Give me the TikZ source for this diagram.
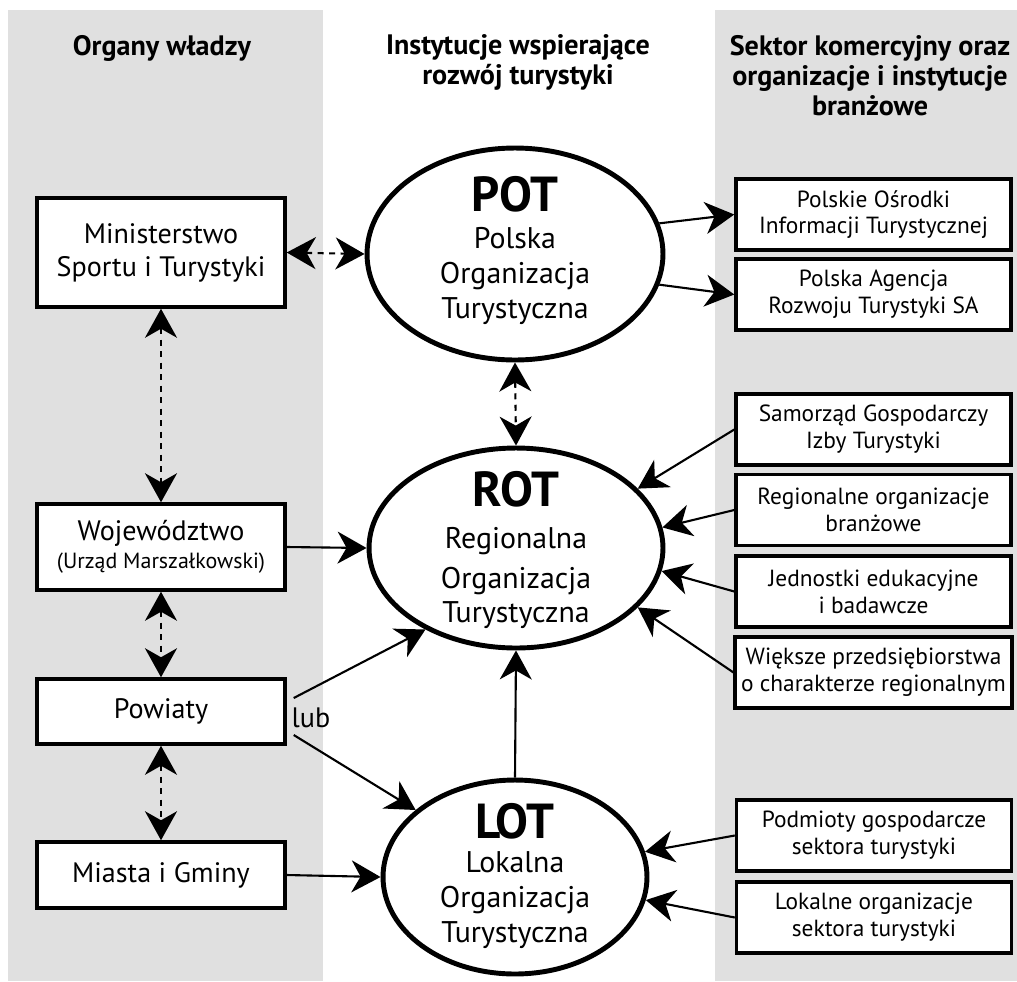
\documentclass[tikz,border=0pt]{standalone}
\usepackage{fontspec}
\setmainfont{PT Sans}
\usetikzlibrary{shapes.geometric,arrows.meta}

\definecolor{panelgray}{RGB}{224,224,224}

\begin{document}
\begin{tikzpicture}[x=0.02cm, y=-0.02cm,
    box/.style={draw, rectangle, line width=2pt, fill=white, align=center,
      minimum width=4.96cm, font=\fontsize{16}{18.7}\selectfont},
    sidebox/.style={draw, rectangle, line width=2pt, fill=white, align=center,
      minimum width=5.5cm, minimum height=1.42cm, font=\fontsize{13.3}{15.3}\selectfont},
    org/.style={draw, ellipse, line width=2.8pt, fill=white, inner sep=0pt},
    orgtext/.style={align=center, font=\fontsize{17}{19.8}\selectfont},
    head/.style={align=center, font=\bfseries\fontsize{16}{17}\selectfont},
    big/.style={font=\bfseries\fontsize{28}{30}\selectfont},
    tip/.style={line width=1.2pt, -{Stealth[length=0.58cm, width=0.64cm, inset=0.18cm]}},
    both/.style={line width=1.2pt, dash pattern=on 0.12cm off 0.11cm,
      {Stealth[length=0.58cm, width=0.64cm, inset=0.18cm]}-{Stealth[length=0.58cm, width=0.64cm, inset=0.18cm]}}]

    % Background
    \useasboundingbox (0,0) rectangle (1017,981);
    \fill[panelgray] (8,10) rectangle (323,981);
    \fill[panelgray] (715,10) rectangle (1017,981);

    % Headers
    \node (h1) [head] at (162,48) {Organy władzy};
    \node (h2) [head] at (518,62) {Instytucje wspierające\\rozwój turystyki};
    \node (h3) [head] at (870,76) {Sektor komercyjny oraz\\organizacje i instytucje\\branżowe};

    % Organy wladzy
    \node (min) [box, minimum height=2.18cm] at (161,252.5) {Ministerstwo\\Sportu i Turystyki};
    \node (woj) [box, minimum height=1.72cm] at (161,547) {Województwo\\[-3pt]{\fontsize{12.5}{14}\selectfont(Urząd Marszałkowski)}};
    \node (pow) [box, minimum height=1.3cm] at (161,711.5) {Powiaty};
    \node (mia) [box, minimum height=1.32cm] at (161,875) {Miasta i Gminy};

    % Organizacje turystyczne
    \node (pot) [org, minimum width=5.92cm, minimum height=4.24cm] at (515,254) {};
    \node (rot) [org, minimum width=5.88cm, minimum height=4.0cm] at (516,548) {};
    \node (lot) [org, minimum width=5.28cm, minimum height=3.88cm] at (515,877) {};
    \node (potname) [big] at (515,194) {POT};
    \node (pottext) [orgtext] at (515,276) {Polska\\Organizacja\\Turystyczna};
    \node (rotname) [big] at (516,489) {ROT};
    \node (rottext) [orgtext] at (516,578) {Regionalna\\[3pt]Organizacja\\Turystyczna};
    \node (lotname) [big] at (515,821) {LOT};
    \node (lottext) [orgtext] at (515,900) {Lokalna\\Organizacja\\Turystyczna};

    % Sektor komercyjny
    \node (osr) [sidebox] at (873.5,214.5) {Polskie Ośrodki\\Informacji Turystycznej};
    \node (age) [sidebox] at (873.5,294.5) {Polska Agencja\\Rozwoju Turystyki SA};
    \node (sam) [sidebox] at (873.5,429.5) {Samorząd Gospodarczy\\Izby Turystyki};
    \node (reg) [sidebox] at (873.5,510) {Regionalne organizacje\\branżowe};
    \node (jed) [sidebox] at (873.5,591.5) {Jednostki edukacyjne\\i badawcze};
    \node (wie) [sidebox] at (873.5,672.5) {Większe przedsiębiorstwa\\o charakterze regionalnym};
    \node (pod) [sidebox] at (874,835.5) {Podmioty gospodarcze\\sektora turystyki};
    \node (lok) [sidebox] at (874,917.5) {Lokalne organizacje\\sektora turystyki};

    % Arrows
    \draw[both] (min.east) -- (pot.west);
    \draw[both] (min.south) -- (woj.north);
    \draw[both] (woj.south) -- (pow.north);
    \draw[both] (pow.south) -- (mia.north);
    \draw[both] (pot.south) -- (rot.north);

    \draw[tip] (pot.12) -- (osr.west);
    \draw[tip] (pot.-12) -- (age.west);
    \draw[tip] (sam.west) -- (rot.26);
    \draw[tip] (reg.west) -- (rot.8);
    \draw[tip] (jed.west) -- (rot.-9);
    \draw[tip] (wie.west) -- (rot.-26);
    \draw[tip] (pod.west) -- (lot.11);
    \draw[tip] (lok.west) -- (lot.-10);

    \draw[tip] (woj.east) -- (rot.west);
    \draw[tip] ([xshift=0.14cm, yshift=0.27cm]pow.east) -- (rot.222);
    \draw[tip] ([xshift=0.14cm, yshift=-0.47cm]pow.east) -- (lot.146);
    \node (lub) [font=\fontsize{16}{18}\selectfont] at (311,718) {lub};
    \draw[tip] (mia.east) -- (lot.west);
    \draw[tip] (lot.north) -- (rot.south);
\end{tikzpicture}
\end{document}
